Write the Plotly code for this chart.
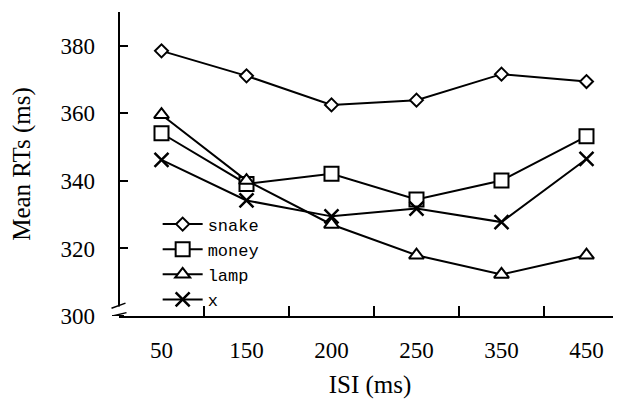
import plotly.graph_objects as go

isi = ["50", "150", "200", "250", "350", "450"]
snake = [378.5, 371.1, 362.5, 363.9, 371.6, 369.4]
money = [354.1, 339.1, 342.1, 334.5, 340.1, 353.2]
lamp = [359.6, 340.1, 327.1, 318.0, 312.3, 318.0]
x_cond = [346.2, 334.2, 329.5, 331.8, 327.8, 346.5]
y_ticks = [300, 320, 340, 360, 380]

series = [
    ("snake", snake, "diamond", 10),
    ("money", money, "square", 14),
    ("lamp", lamp, "triangle-up", 13),
    ("x", x_cond, "x-thin", 14),
]

fig = go.Figure()
for name, vals, sym, sz in series:
    if sym == "x-thin":
        marker = dict(symbol=sym, size=sz, color="black", line=dict(color="black", width=2.5))
    else:
        marker = dict(symbol=sym, size=sz, color="white", line=dict(color="black", width=2))
    fig.add_trace(go.Scatter(
        x=isi, y=vals, name=name, mode="lines+markers",
        line=dict(color="black", width=2), marker=marker,
    ))

# page body adds an 8px offset
W, H = 613, 404
L, R, T, B = 111, 0, 4, 96
pw = W - L - R

def px(xp):
    # page pixel -> paper x
    return (xp - 8 - L) / pw

shapes = [
    dict(type="line", xref="paper", yref="y", x0=0, x1=0, y0=302.8, y1=390,
         line=dict(color="black", width=2)),
    dict(type="line", xref="paper", yref="y", x0=px(112), x1=0.01, y0=300, y1=300,
         line=dict(color="black", width=2)),
    dict(type="line", xref="paper", yref="y", x0=px(111.5), x1=px(125.5), y0=302.3, y1=303.8,
         line=dict(color="black", width=1.5)),
    dict(type="line", xref="paper", yref="y", x0=px(112.5), x1=px(126.5), y0=300.0, y1=301.0,
         line=dict(color="black", width=1.5)),
]

serif = "Liberation Serif, Times New Roman, serif"
fig.update_layout(
    width=W, height=H,
    margin=dict(l=L, r=R, t=T, b=B, autoexpand=False),
    paper_bgcolor="white", plot_bgcolor="white",
    font=dict(family=serif, color="black", size=25),
    showlegend=True,
    legend=dict(
        x=0.077, y=0.36, xanchor="left", yanchor="top",
        bgcolor="rgba(255,255,255,0)", borderwidth=0,
        font=dict(family="Liberation Mono, monospace", size=17, color="black"),
        tracegroupgap=0, itemwidth=40,
    ),
    shapes=shapes,
)
fig.update_xaxes(
    type="category", categoryorder="array", categoryarray=isi,
    range=[-0.5, 5.406], showgrid=False, zeroline=False,
    showline=True, linecolor="black", linewidth=2,
    ticks="inside", ticklen=10, tickwidth=1.5, tickcolor="black",
    tickson="boundaries", ticklabelstandoff=12,
    tickfont=dict(family=serif, size=23, color="black"),
    title=dict(text="ISI (ms)", font=dict(family=serif, size=25), standoff=14),
    fixedrange=True,
)
fig.update_yaxes(
    range=[300, 390], tickvals=y_ticks, showgrid=False, zeroline=False,
    showline=False,
    ticks="inside", ticklen=9, tickwidth=1.5, tickcolor="black",
    ticklabelstandoff=23,
    tickfont=dict(family=serif, size=23, color="black"),
    title=dict(text="Mean RTs (ms)", font=dict(family=serif, size=25), standoff=22),
    fixedrange=True,
)
fig.write_html("out.html")
